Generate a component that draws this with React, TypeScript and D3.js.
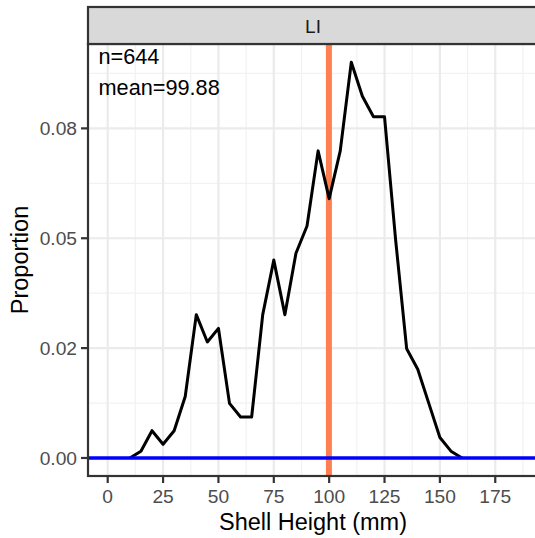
import React from "react";
import * as d3 from "d3";

const shellHeights = [10, 15, 20, 25, 30, 35, 40, 45, 50, 55, 60, 65, 70, 75, 80, 85, 90, 95, 100, 105, 110, 115, 120, 125, 130, 135, 140, 145, 150, 155, 160];
const proportions = [0, 0.00155, 0.00621, 0.00311, 0.00621, 0.01398, 0.03261, 0.0264, 0.0295, 0.01242, 0.00932, 0.00932, 0.03261, 0.04503, 0.03261, 0.04658, 0.0528, 0.06988, 0.05901, 0.06988, 0.09006, 0.0823, 0.07764, 0.07764, 0.04969, 0.02484, 0.02019, 0.01242, 0.00466, 0.00155, 0];
const xTicks = [0, 25, 50, 75, 100, 125, 150, 175, 200];
const xMinor = [12.5, 37.5, 62.5, 87.5, 112.5, 137.5, 162.5, 187.5];
const yTicks = [0, 0.025, 0.05, 0.075];
const yTickLabels = ["0.00", "0.02", "0.05", "0.08"];
const yMinor = [0.0125, 0.0375, 0.0625, 0.0875];
const facetLabel = "LI";
const nLabel = "n=644";
const meanValue = 99.88;
const meanLabel = "mean=99.88";

const W = 535, H = 538;
const panel = { left: 88, right: 538, top: 44, bottom: 476 };
const stripTop = 7;
const font = "'Liberation Sans', Arial, sans-serif";

export default function App() {
  const x = d3.scaleLinear().domain([-8.9, 194.3]).range([panel.left, panel.right]);
  const y = d3.scaleLinear().domain([-0.0041, 0.0942]).range([panel.bottom, panel.top]);
  const pts = shellHeights.map((h, i) => [h, proportions[i]] as [number, number]);
  const line = d3.line<[number, number]>().x(d => x(d[0])).y(d => y(d[1]));
  const inX = (v: number) => x(v) >= panel.left && x(v) <= W;
  const inY = (v: number) => y(v) >= panel.top && y(v) <= panel.bottom;

  return (
    <svg width={W} height={H} style={{ position: "absolute", left: 0, top: 0, background: "#fff" }} fontFamily={font}>
      <rect x={0} y={0} width={W} height={H} fill="#fff" />
      <rect x={panel.left} y={panel.top} width={panel.right - panel.left} height={panel.bottom - panel.top} fill="#fff" />
      {xMinor.filter(inX).map(v => (
        <line key={"xm" + v} x1={x(v)} x2={x(v)} y1={panel.top} y2={panel.bottom} stroke="#F2F2F2" strokeWidth={1.2} />
      ))}
      {yMinor.filter(inY).map(v => (
        <line key={"ym" + v} x1={panel.left} x2={panel.right} y1={y(v)} y2={y(v)} stroke="#F2F2F2" strokeWidth={1.2} />
      ))}
      {xTicks.filter(inX).map(v => (
        <line key={"xg" + v} x1={x(v)} x2={x(v)} y1={panel.top} y2={panel.bottom} stroke="#EBEBEB" strokeWidth={2.2} />
      ))}
      {yTicks.map(v => (
        <line key={"yg" + v} x1={panel.left} x2={panel.right} y1={y(v)} y2={y(v)} stroke="#EBEBEB" strokeWidth={2.2} />
      ))}
      <line x1={x(meanValue)} x2={x(meanValue)} y1={panel.top} y2={panel.bottom} stroke="#FF7F50" strokeWidth={6} />
      <path d={line(pts) || ""} fill="none" stroke="#000" strokeWidth={3} strokeLinejoin="round" strokeLinecap="butt" />
      <line x1={panel.left} x2={panel.right} y1={y(0)} y2={y(0)} stroke="#0000FF" strokeWidth={3.5} />
      <text x={panel.left + 10.5} y={64} fontSize={21.7} fill="#000">{nLabel}</text>
      <text x={panel.left + 10.5} y={95} fontSize={21.7} fill="#000">{meanLabel}</text>
      <rect x={panel.left} y={panel.top} width={panel.right - panel.left} height={panel.bottom - panel.top} fill="none" stroke="#333" strokeWidth={2.2} />
      <rect x={panel.left} y={stripTop} width={panel.right - panel.left} height={panel.top - stripTop} fill="#D9D9D9" stroke="#333" strokeWidth={2.2} />
      <text x={(panel.left + panel.right) / 2} y={33} textAnchor="middle" fontSize={19} fill="#1A1A1A">{facetLabel}</text>
      {yTicks.map((v, i) => (
        <g key={"yt" + v}>
          <line x1={panel.left - 7} x2={panel.left} y1={y(v)} y2={y(v)} stroke="#333" strokeWidth={2.2} />
          <text x={panel.left - 11} y={y(v)} dy="0.36em" textAnchor="end" fontSize={19.2} fill="#4D4D4D">{yTickLabels[i]}</text>
        </g>
      ))}
      {xTicks.filter(inX).map(v => (
        <g key={"xt" + v}>
          <line x1={x(v)} x2={x(v)} y1={panel.bottom} y2={panel.bottom + 7} stroke="#333" strokeWidth={2.2} />
          <text x={x(v)} y={503} textAnchor="middle" fontSize={19.2} fill="#4D4D4D">{v}</text>
        </g>
      ))}
      <text x={(panel.left + panel.right) / 2} y={530} textAnchor="middle" fontSize={23.5} fill="#000">Shell Height (mm)</text>
      <text transform={`translate(28, ${(panel.top + panel.bottom) / 2}) rotate(-90)`} textAnchor="middle" fontSize={23.5} fill="#000">Proportion</text>
    </svg>
  );
}
